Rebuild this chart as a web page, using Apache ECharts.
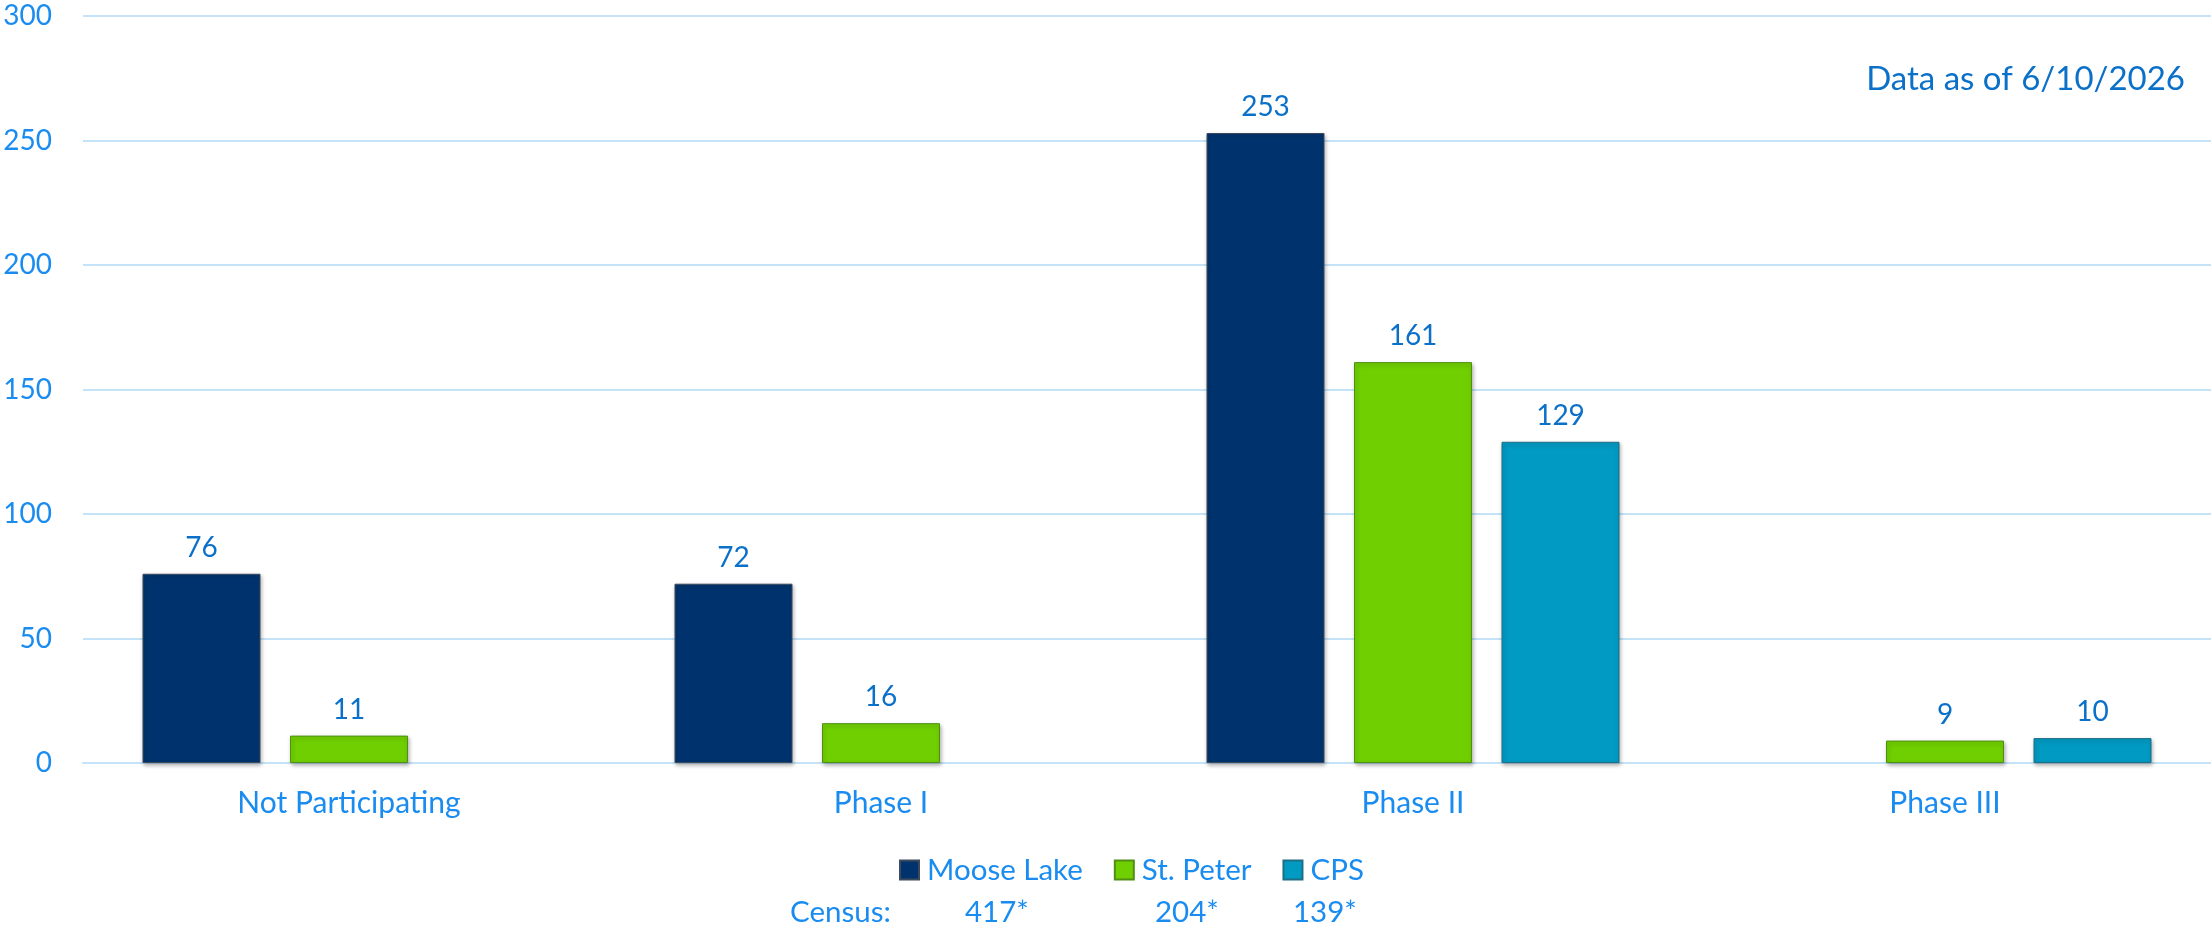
<!DOCTYPE html>
<html>
<head>
<meta charset="utf-8">
<script src="https://cdn.jsdelivr.net/npm/echarts@6/dist/echarts.min.js"></script>
<style>
  html, body { margin: 0; padding: 0; background: #fff; }
  #chart { width: 2211px; height: 927px; }
</style>
</head>
<body>
<div id="chart"></div>
<script>
// chart data
const categories = ['Not Participating', 'Phase I', 'Phase II', 'Phase III']
const seriesNames = ['Moose Lake', 'St. Peter', 'CPS']
const mooseLake = [76, 72, 253, '-']
const stPeter = [11, 16, 161, 9]
const cps = ['-', '-', 129, 10]
const census = ['417*', '204*', '139*']
const yTicks = { min: 0, max: 300, interval: 50 }
const asOf = 'Data as of 6/10/2026'

const colors = ['#00336E', '#70CF00', '#009AC2']
const borders = ['#3c4a5c', '#4f8f14', '#1d6f86']
const font = 'Lato, "Open Sans", sans-serif'
const axisBlue = '#1a8cf0'
const labelBlue = '#0a70c8'

const chart = echarts.init(document.getElementById('chart'))

const barSeries = [mooseLake, stPeter, cps].map((data, i) => ({
  name: seriesNames[i],
  type: 'bar',
  data,
  barWidth: 118,
  barGap: '25%',
  itemStyle: {
    color: colors[i],
    borderColor: borders[i],
    borderWidth: 1,
    shadowColor: 'rgba(0,0,0,0.3)',
    shadowBlur: 4,
    shadowOffsetX: 1,
    shadowOffsetY: 2,
  },
  label: {
    show: true,
    position: 'top',
    distance: 12,
    color: labelBlue,
    fontFamily: font,
    fontSize: 28,
  },
}))

// census row under the legend
const censusX = [965, 1155, 1293]
const censusText = [{
  type: 'text',
  left: 790,
  top: 897,
  style: { text: 'Census:', fill: axisBlue, font: `29.5px ${font}` },
}].concat(census.map((c, i) => ({
  type: 'text',
  left: censusX[i],
  top: 897,
  style: { text: c, fill: axisBlue, font: `29.5px ${font}` },
})))

chart.setOption({
  animation: false,
  title: {
    text: asOf,
    right: 21,
    top: 58,
    textStyle: { color: labelBlue, fontFamily: font, fontSize: 33, fontWeight: 'normal' },
  },
  grid: { left: 83, right: -1, top: 16, bottom: 164 },
  legend: {
    data: seriesNames,
    left: 894,
    top: 850,
    itemWidth: 19,
    itemHeight: 19,
    itemGap: 31,
    icon: 'rect',
    textStyle: { color: axisBlue, fontFamily: font, fontSize: 29.5, padding: [0, 0, 0, 3] },
  },
  xAxis: {
    type: 'category',
    data: categories,
    axisLine: { lineStyle: { color: '#c5e3f8', width: 2 } },
    axisTick: { show: false },
    axisLabel: { color: axisBlue, fontFamily: font, fontSize: 30, margin: 25 },
  },
  yAxis: {
    type: 'value',
    min: yTicks.min,
    max: yTicks.max,
    interval: yTicks.interval,
    axisLine: { show: false },
    axisTick: { show: false },
    axisLabel: { color: axisBlue, fontFamily: font, fontSize: 28, margin: 31 },
    splitLine: { lineStyle: { color: '#c5e3f8', width: 2 } },
  },
  graphic: censusText,
  series: barSeries,
})
</script>
</body>
</html>
